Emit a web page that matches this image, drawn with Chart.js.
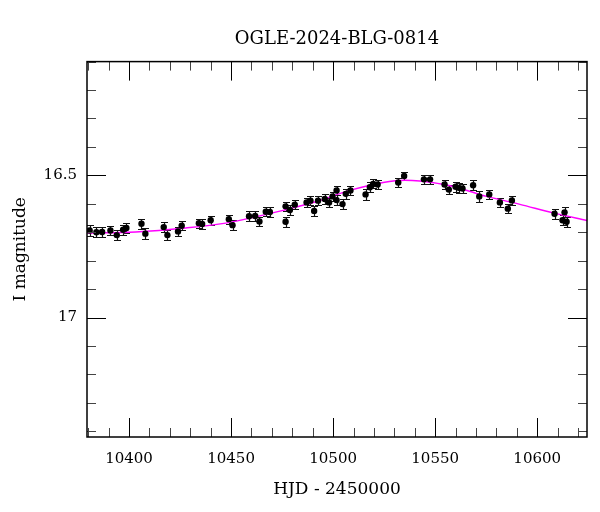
<!DOCTYPE html>
<html>
<head>
<meta charset="utf-8">
<title>OGLE-2024-BLG-0814</title>
<script src="https://cdn.jsdelivr.net/npm/chart.js@4.4.1/dist/chart.umd.min.js"></script>
<style>
    html, body { margin: 0; padding: 0; background: #fff; }
    #wrap { width: 600px; height: 512px; }
</style>
</head>
<body>
<div id="wrap"><canvas id="lightCurve" width="600" height="512"></canvas></div>
<script>
// OGLE photometry (HJD - 2450000, I mag, error)
const hjd = [
    10380.7, 10384.0, 10386.8, 10390.9, 10394.0, 10397.1, 10398.7, 10406.1, 10408.0, 10417.0,
    10418.8, 10424.0, 10425.8, 10434.2, 10435.8, 10440.0, 10448.9, 10450.7, 10458.8, 10461.8,
    10463.9, 10467.0, 10469.0, 10476.7, 10476.7, 10478.8, 10481.2, 10487.0, 10488.9, 10490.7,
    10492.6, 10495.9, 10498.0, 10499.7, 10501.7, 10501.7, 10504.6, 10506.2, 10508.5, 10515.9,
    10518.0, 10519.6, 10521.8, 10531.9, 10534.8, 10544.5, 10547.5, 10554.6, 10556.7, 10560.0,
    10561.6, 10563.4, 10568.6, 10571.6, 10576.5, 10581.7, 10585.6, 10587.6, 10608.5, 10613.4,
    10612.4, 10614.4
];
const mag = [
    16.694, 16.700, 16.699, 16.694, 16.710, 16.691, 16.685, 16.670, 16.705, 16.682,
    16.710, 16.697, 16.677, 16.668, 16.671, 16.658, 16.654, 16.675, 16.644, 16.643,
    16.662, 16.628, 16.629, 16.609, 16.663, 16.622, 16.603, 16.595, 16.589, 16.625,
    16.589, 16.583, 16.595, 16.574, 16.553, 16.587, 16.601, 16.565, 16.553, 16.567,
    16.542, 16.530, 16.532, 16.525, 16.502, 16.514, 16.514, 16.532, 16.550, 16.540,
    16.544, 16.546, 16.535, 16.574, 16.567, 16.595, 16.617, 16.588, 16.635, 16.630,
    16.658, 16.663
];
const magErr = [
    0.018, 0.017, 0.017, 0.016, 0.018, 0.017, 0.016, 0.018, 0.019, 0.017,
    0.017, 0.017, 0.016, 0.016, 0.016, 0.015, 0.016, 0.018, 0.017, 0.016,
    0.016, 0.016, 0.016, 0.017, 0.018, 0.017, 0.016, 0.016, 0.016, 0.017,
    0.016, 0.016, 0.016, 0.016, 0.016, 0.017, 0.018, 0.017, 0.016, 0.018,
    0.017, 0.016, 0.016, 0.017, 0.015, 0.016, 0.016, 0.017, 0.017, 0.017,
    0.017, 0.017, 0.018, 0.019, 0.017, 0.016, 0.017, 0.016, 0.017, 0.018,
    0.017, 0.018
];

// model light curve
const modelHjd = [
    10379.4, 10403.3, 10427.8, 10447.4, 10462.1, 10475.5, 10491.9, 10508.2,
    10524.5, 10535.1, 10542.5, 10558.8, 10575.2, 10591.5, 10607.8, 10624.4
];
const modelMag = [
    16.703, 16.699, 16.685, 16.668, 16.646, 16.623, 16.592, 16.553,
    16.525, 16.517, 16.520, 16.539, 16.574, 16.602, 16.632, 16.659
];

const xLabelTicks = [10400, 10450, 10500, 10550, 10600];
const yLabelTicks = [16.5, 17];

const FONT = "'DejaVu Serif', serif";

// error bars, box and inward tick marks on all four sides
const frameAndErrors = {
    id: "frameAndErrors",
    beforeDatasetsDraw(chart) {
        const ctx = chart.ctx;
        const xs = chart.scales.x;
        const ys = chart.scales.y;
        ctx.save();
        ctx.strokeStyle = "#111";
        ctx.lineWidth = 1.2;
        hjd.forEach((t, i) => {
            const x = Math.round(xs.getPixelForValue(t)) + 0.5;
            const y1 = Math.round(ys.getPixelForValue(mag[i] - magErr[i])) + 0.5;
            const y2 = Math.round(ys.getPixelForValue(mag[i] + magErr[i])) + 0.5;
            ctx.beginPath();
            ctx.moveTo(x, y1);
            ctx.lineTo(x, y2);
            ctx.moveTo(x - 3.5, y1);
            ctx.lineTo(x + 3.5, y1);
            ctx.moveTo(x - 3.5, y2);
            ctx.lineTo(x + 3.5, y2);
            ctx.stroke();
        });
        ctx.restore();
    },
    afterDraw(chart) {
        const ctx = chart.ctx;
        const area = chart.chartArea;
        const xs = chart.scales.x;
        const ys = chart.scales.y;
        ctx.save();

        ctx.lineWidth = 1;
        for (let v = 10380; v <= 10620; v += 10) {
            const major = v % 50 === 0;
            const len = major ? 19 : 9;
            const x = Math.round(xs.getPixelForValue(v)) + 0.5;
            ctx.strokeStyle = major ? "#000" : "#444";
            ctx.beginPath();
            ctx.moveTo(x, area.bottom);
            ctx.lineTo(x, area.bottom - len);
            ctx.moveTo(x, area.top);
            ctx.lineTo(x, area.top + len);
            ctx.stroke();
        }
        for (let k = 161; k <= 174; k++) {
            const major = k % 5 === 0;
            const len = major ? 19 : 9;
            const y = Math.round(ys.getPixelForValue(k / 10)) + 0.5;
            ctx.strokeStyle = major ? "#000" : "#444";
            ctx.beginPath();
            ctx.moveTo(area.left, y);
            ctx.lineTo(area.left + len, y);
            ctx.moveTo(area.right, y);
            ctx.lineTo(area.right - len, y);
            ctx.stroke();
        }

        ctx.strokeStyle = "#000";
        ctx.lineWidth = 1.5;
        ctx.strokeRect(area.left, area.top, area.right - area.left, area.bottom - area.top);
        ctx.restore();
    }
};

const ctx = document.getElementById("lightCurve").getContext("2d");

new Chart(ctx, {
    type: "scatter",
    data: {
        datasets: [
            {
                data: hjd.map((t, i) => ({ x: t, y: mag[i] })),
                pointRadius: 3.2,
                pointBackgroundColor: "#000",
                pointBorderWidth: 0,
                order: 1
            },
            {
                data: modelHjd.map((t, i) => ({ x: t, y: modelMag[i] })),
                showLine: true,
                pointRadius: 0,
                borderColor: "#ff00ff",
                borderWidth: 1.4,
                cubicInterpolationMode: "monotone",
                order: 2
            }
        ]
    },
    options: {
        responsive: false,
        animation: false,
        devicePixelRatio: 1,
        events: [],
        layout: { padding: { top: 0, right: 13, bottom: 0, left: 0 } },
        plugins: {
            legend: { display: false },
            tooltip: { enabled: false },
            title: {
                display: true,
                text: "OGLE-2024-BLG-0814",
                fullSize: false,
                color: "#000",
                font: { family: FONT, size: 18, weight: "normal" },
                padding: { top: 29, bottom: 11 }
            }
        },
        scales: {
            x: {
                type: "linear",
                min: 10379.4,
                max: 10624.4,
                grid: { display: false },
                border: { display: false },
                afterBuildTicks: s => { s.ticks = xLabelTicks.map(v => ({ value: v })); },
                afterFit: s => { s.height = 75; },
                ticks: {
                    color: "#000",
                    font: { family: FONT, size: 15 },
                    padding: 5,
                    maxRotation: 0,
                    autoSkip: false,
                    callback: v => String(v)
                },
                title: {
                    display: true,
                    text: "HJD - 2450000",
                    color: "#000",
                    font: { family: FONT, size: 17 },
                    padding: { top: 0, bottom: 12 }
                }
            },
            y: {
                type: "linear",
                reverse: true,
                min: 16.1,
                max: 17.42,
                grid: { display: false },
                border: { display: false },
                afterBuildTicks: s => { s.ticks = yLabelTicks.map(v => ({ value: v })); },
                afterFit: s => { s.width = 87; },
                ticks: {
                    color: "#000",
                    font: { family: FONT, size: 15 },
                    padding: 2,
                    callback: v => String(v)
                },
                title: {
                    display: true,
                    text: "I magnitude",
                    color: "#000",
                    font: { family: FONT, size: 17 },
                    padding: { top: 10, bottom: 0 }
                }
            }
        }
    },
    plugins: [frameAndErrors]
});
</script>
</body>
</html>
